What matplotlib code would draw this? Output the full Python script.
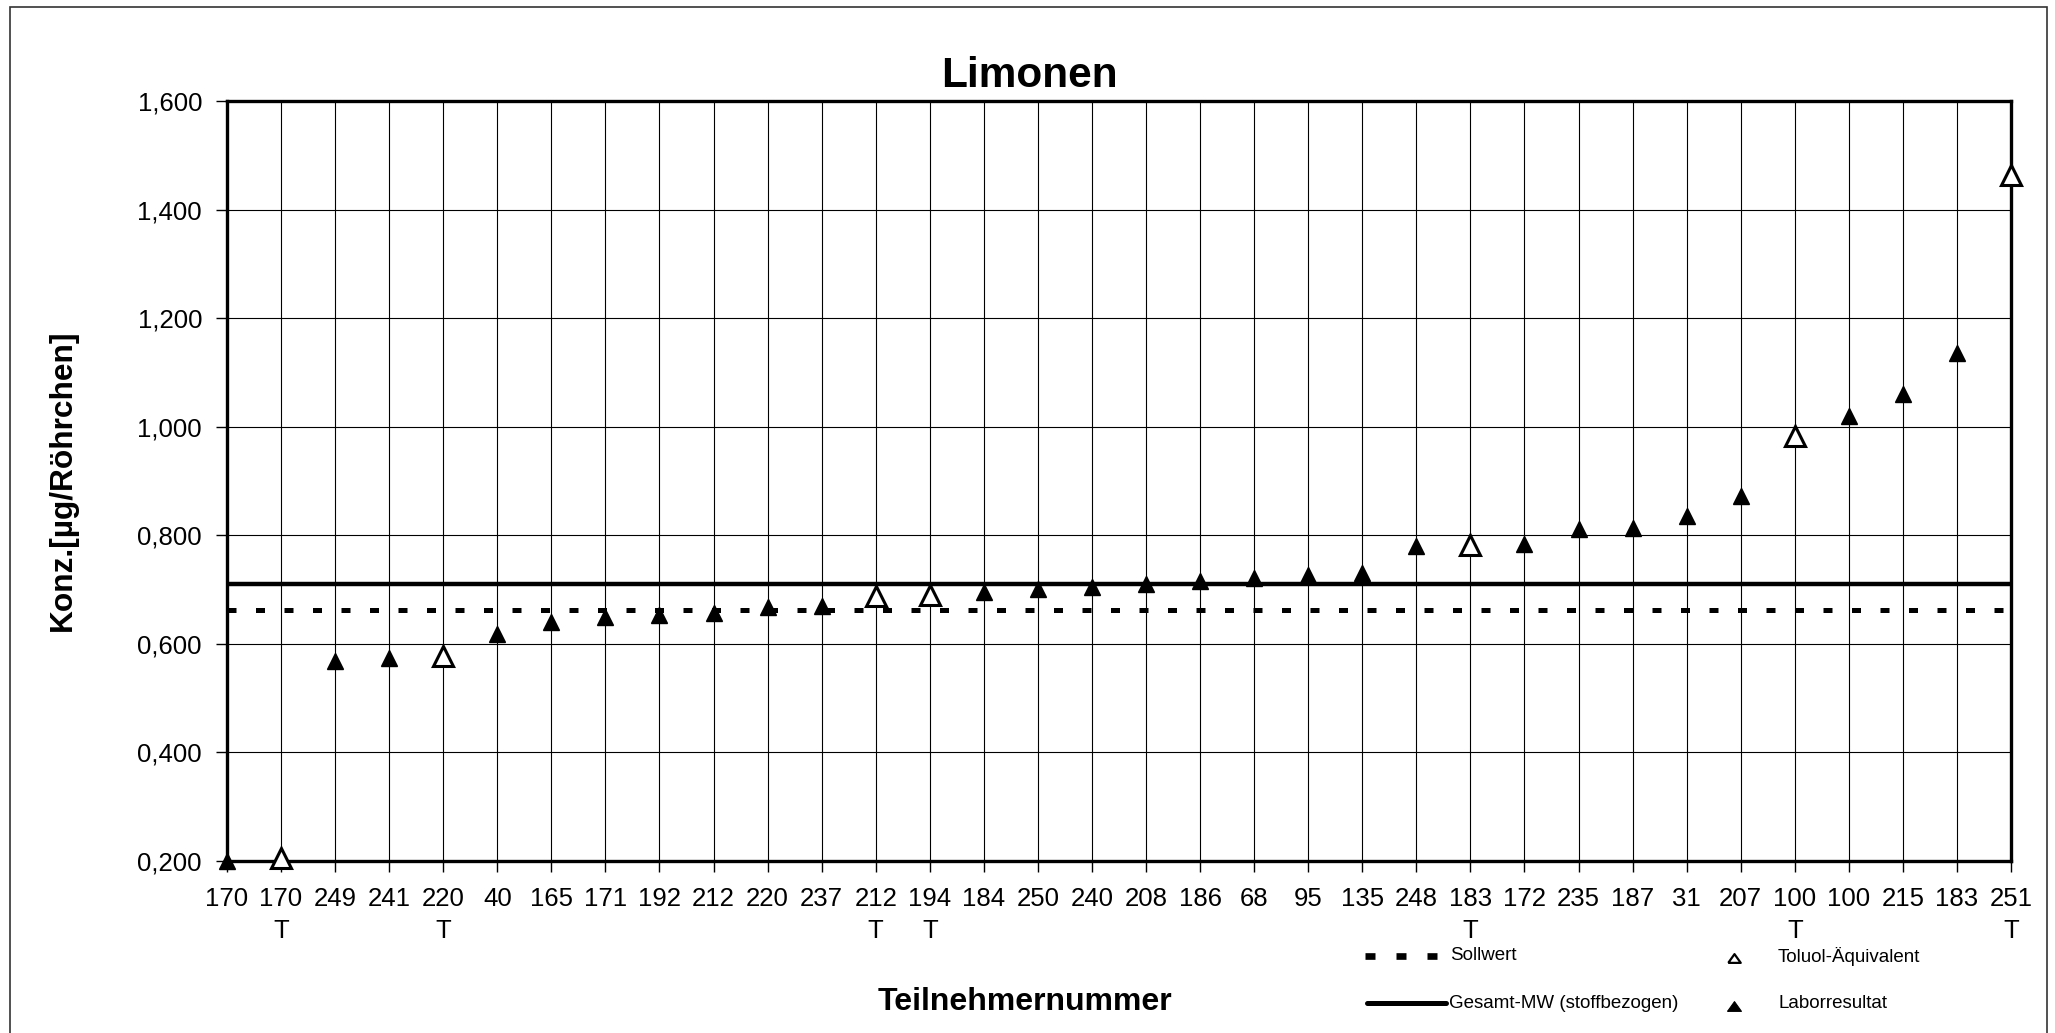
import matplotlib
matplotlib.use("Agg")
import matplotlib.pyplot as plt
from matplotlib.lines import Line2D
from matplotlib.patches import Rectangle

plt.rcParams['font.family'] = ['Liberation Sans', 'DejaVu Sans']

# participant numbers, sorted by result
teilnehmer = ['170', '170', '249', '241', '220', '40', '165', '171', '192', '212',
              '220', '237', '212', '194', '184', '250', '240', '208', '186', '68',
              '95', '135', '248', '183', '172', '235', '187', '31', '207', '100',
              '100', '215', '183', '251']
# True = Toluol-Äquivalent
toluol = [False, True, False, False, True, False, False, False, False, False,
          False, False, True, True, False, False, False, False, False, False,
          False, False, False, True, False, False, False, False, False, True,
          False, False, False, True]
konz = [0.200, 0.205, 0.568, 0.574, 0.577, 0.619, 0.640, 0.650, 0.653, 0.657,
        0.668, 0.670, 0.688, 0.690, 0.695, 0.701, 0.704, 0.711, 0.716, 0.721,
        0.727, 0.731, 0.780, 0.782, 0.784, 0.811, 0.814, 0.836, 0.872, 0.983,
        1.020, 1.060, 1.136, 1.463]
sollwert = 0.663
gesamt_mw = 0.710
y_ticks = [0.2, 0.4, 0.6, 0.8, 1.0, 1.2, 1.4, 1.6]

W, H = 2055, 1033
fig = plt.figure(figsize=(W / 100, H / 100), dpi=100)
ax = fig.add_axes([227 / W, 1 - 861 / H, (2011 - 227) / W, (861 - 101) / H])

x = list(range(len(teilnehmer)))
n = len(x)

# reference lines
ax.axhline(sollwert, color='black', lw=3.6, linestyle=(0, (1.8, 3.9)),
           dash_capstyle='butt', zorder=3)
ax.axhline(gesamt_mw, color='black', lw=3.2, zorder=3)

# markers
xs_lab = [i for i in x if not toluol[i]]
ys_lab = [konz[i] for i in x if not toluol[i]]
xs_tol = [i for i in x if toluol[i]]
ys_tol = [konz[i] for i in x if toluol[i]]
ax.plot(xs_lab, ys_lab, linestyle='none', marker='^', ms=11, mfc='black',
        mec='black', mew=1, zorder=5, clip_on=False)
ax.plot(xs_tol, ys_tol, linestyle='none', marker='^', ms=15, mfc='white',
        mec='black', mew=2.2, zorder=5, clip_on=False)

ax.set_xlim(0, n - 1)
ax.set_ylim(0.2, 1.6)
ax.set_xticks(x)
ax.set_xticklabels([t + ('\nT' if f else '') for t, f in zip(teilnehmer, toluol)],
                   fontsize=18.5, linespacing=1.42)
ax.set_yticks(y_ticks)
ax.set_yticklabels([f"{v:.3f}".replace('.', ',') for v in y_ticks], fontsize=18.5)
ax.tick_params(axis='x', direction='out', length=8, width=1, pad=11)
ax.tick_params(axis='y', direction='out', length=8, width=1, pad=10)
ax.grid(True, color='black', lw=0.8, zorder=1)
ax.set_axisbelow(True)
for s in ax.spines.values():
    s.set_linewidth(2.4)
    s.set_zorder(4)

fig.text(1029 / W, 1 - 76 / H, 'Limonen', fontsize=30.5, fontweight='bold',
         ha='center', va='center')
fig.text(63 / W, 1 - 480 / H, 'Konz.[µg/Röhrchen]', fontsize=22.8, fontweight='bold',
         rotation=90, ha='center', va='center')
fig.text(1025 / W, 1 - 1002 / H, 'Teilnehmernummer', fontsize=23, fontweight='bold',
         ha='center', va='center')

# legend drawn in figure coordinates
y1 = 1 - 956 / H
y2 = 1 - 1003 / H
flat_tri = [(-1.0, -0.7), (1.0, -0.7), (0.0, 0.7), (-1.0, -0.7)]
fig.add_artist(Line2D([1365 / W, 1438 / W], [y1, y1], color='black', lw=4.8,
                      linestyle=(0, (1.5, 3.15)), dash_capstyle='butt'))
fig.add_artist(Line2D([1367 / W, 1446 / W], [y2, y2], color='black', lw=3.6,
                      solid_capstyle='round'))
fig.text(1450 / W, y1, 'Sollwert', fontsize=13.5, ha='left', va='center')
fig.text(1449 / W, y2, 'Gesamt-MW (stoffbezogen)', fontsize=13.5, ha='left', va='center')
fig.add_artist(Line2D([1734 / W], [1 - 958 / H], marker=flat_tri, ms=9, mfc='white',
                      mec='black', mew=1.6, linestyle='none'))
fig.add_artist(Line2D([1734 / W], [1 - 1006 / H], marker=flat_tri, ms=10, mfc='black',
                      mec='black', mew=0.8, linestyle='none'))
fig.text(1778 / W, y1, 'Toluol-Äquivalent', fontsize=13.5, ha='left', va='center')
fig.text(1778 / W, y2, 'Laborresultat', fontsize=13.5, ha='left', va='center')

# outer frame
fig.add_artist(Rectangle((10 / W, -0.02), (2047 - 10) / W, 1.02 - 7 / H,
                         transform=fig.transFigure, fill=False,
                         edgecolor='#333333', lw=1.2))

fig.savefig('out.png', dpi=100)
